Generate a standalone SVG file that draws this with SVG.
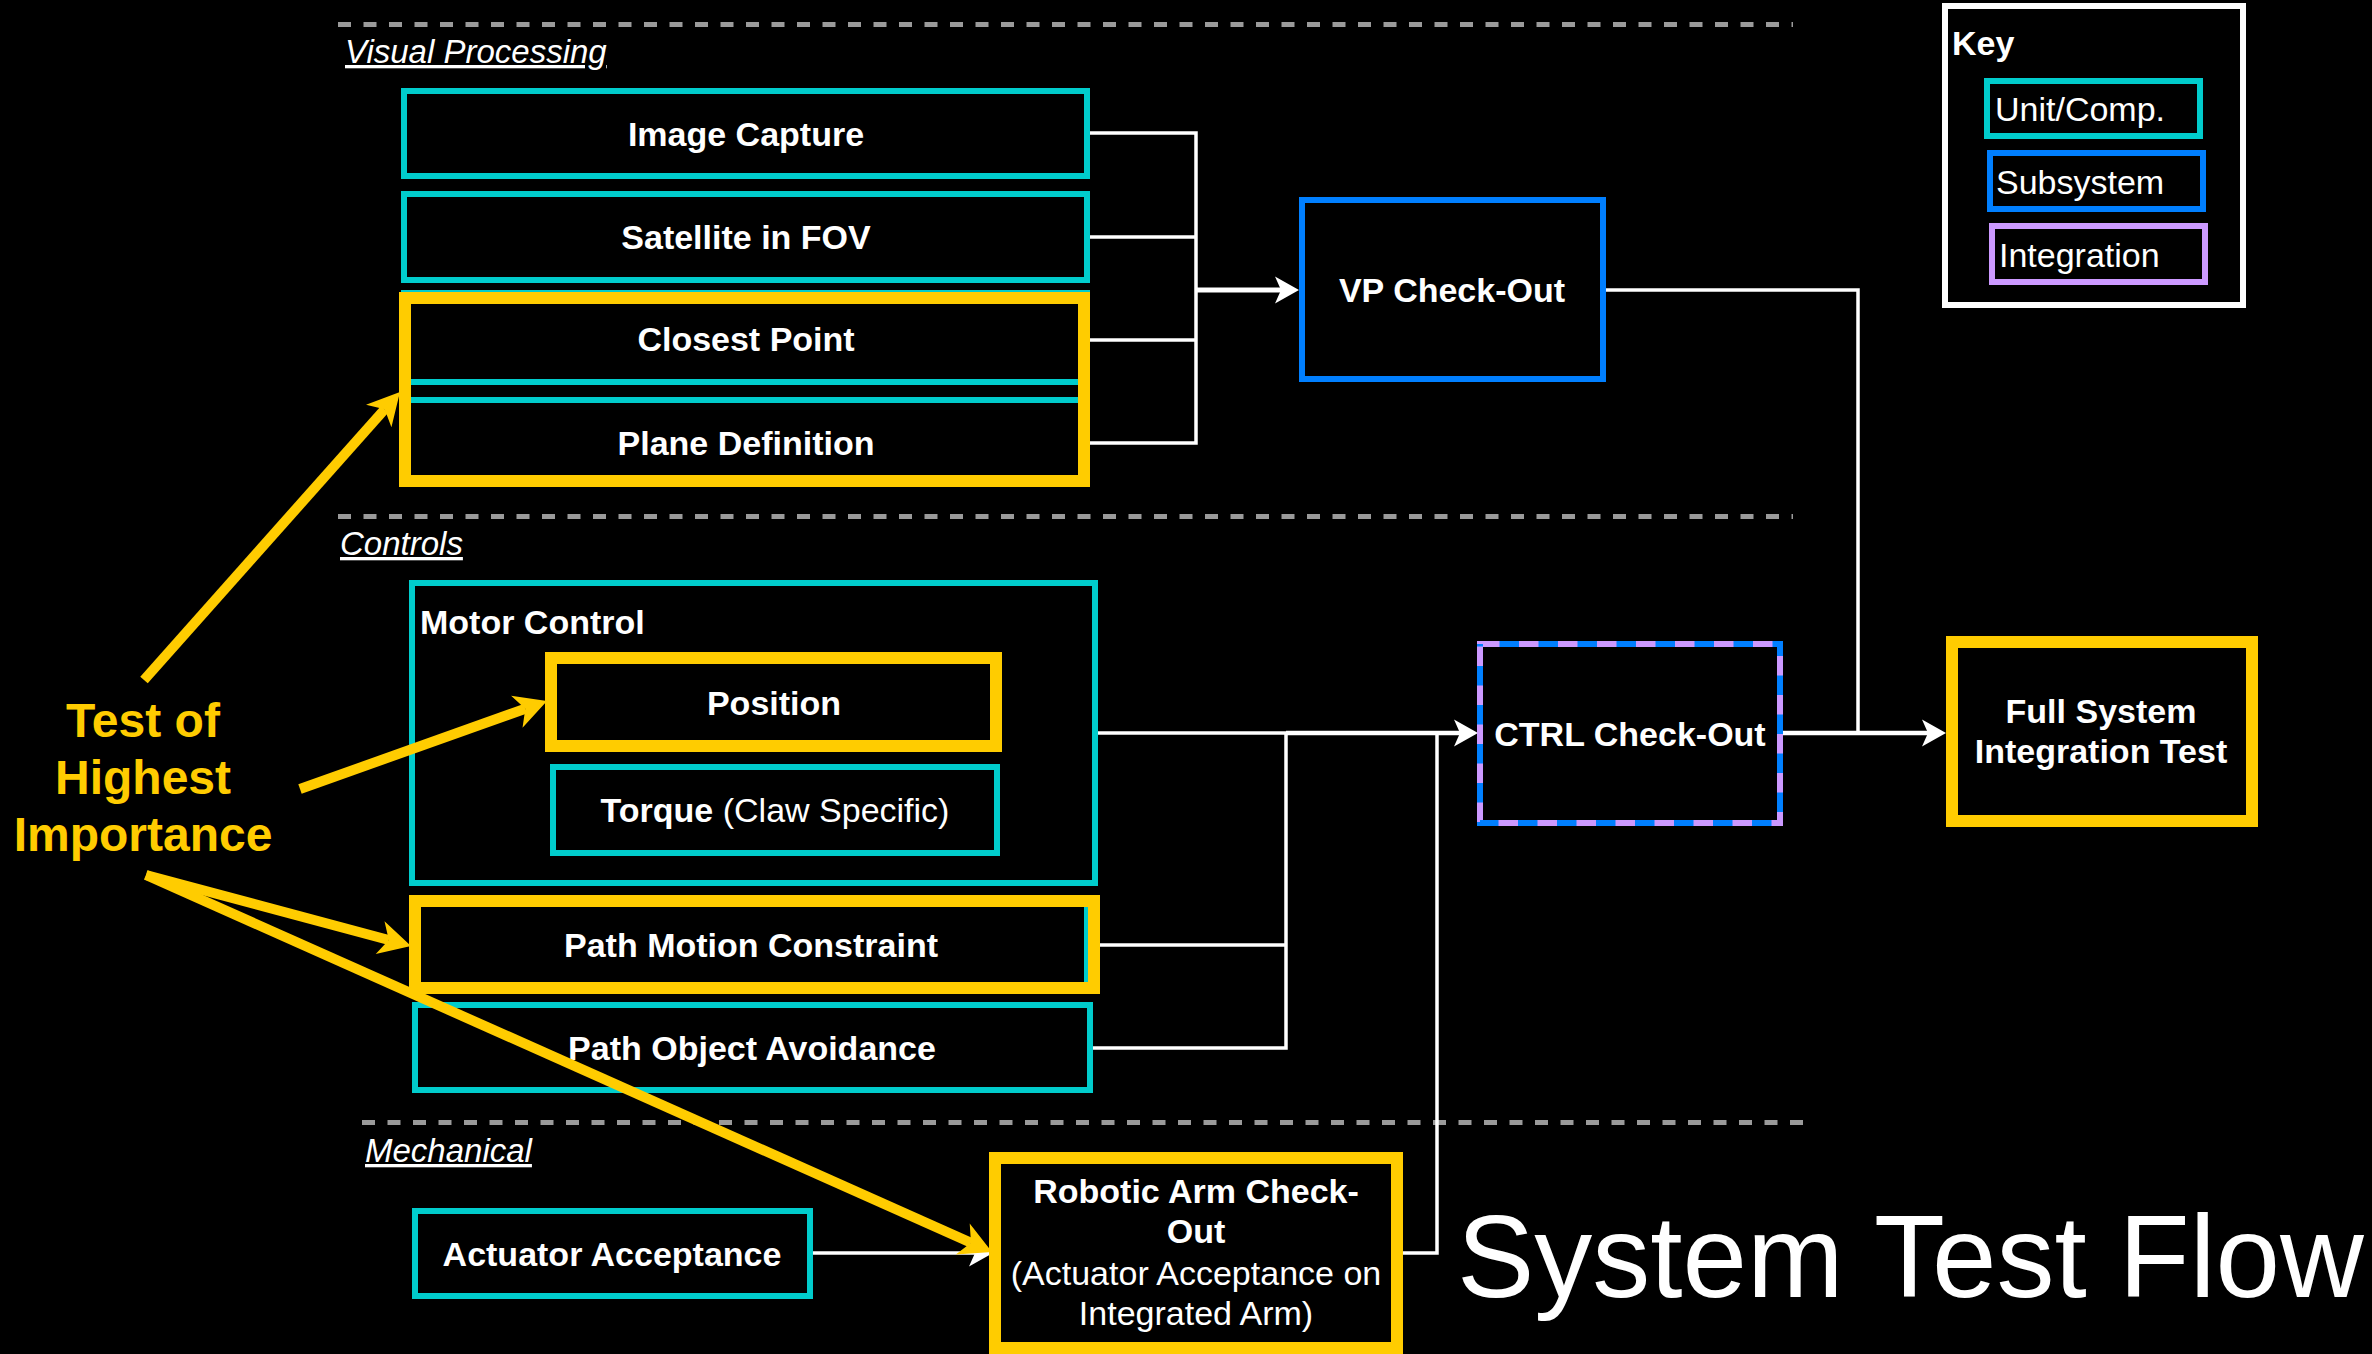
<svg xmlns="http://www.w3.org/2000/svg" width="2372" height="1354" viewBox="0 0 2372 1354">
<style>
text{font-family:"Liberation Sans",Arial,sans-serif;fill:#fff}
.b{font-weight:bold;font-size:34px;text-anchor:middle}
.r{font-size:34px}
.sec{font-size:33px;font-style:italic;text-decoration:underline}
.cy{fill:#000;stroke:#00CCCC;stroke-width:6}
.yl{fill:none;stroke:#FFCC00;stroke-width:12}
.yf{fill:#000;stroke:#FFCC00;stroke-width:12}
.bl{fill:#000;stroke:#007FFF;stroke-width:6}
.pu{fill:#000;stroke:#CC99FF;stroke-width:6}
.dash{stroke:#9a9a9a;stroke-width:5;stroke-dasharray:13 12.5;fill:none}
.w{fill:none;stroke:#fff;stroke-width:3.5}
.wa{fill:none;stroke:#fff;stroke-width:4.5;marker-end:url(#wa)}
.ya{fill:none;stroke:#FFCC00;stroke-width:10;marker-end:url(#ya)}
</style>
<defs>
<marker id="wa" markerUnits="userSpaceOnUse" viewBox="0 0 24 27" markerWidth="24" markerHeight="27" refX="6" refY="13.5" orient="auto" overflow="visible"><path d="M0,0 L24,13.5 L0,27 L6,13.5 Z" fill="#fff"/></marker>
<marker id="ya" markerUnits="userSpaceOnUse" viewBox="0 0 32 34" markerWidth="32" markerHeight="34" refX="9" refY="17" orient="auto" overflow="visible"><path d="M0,0 L32,17 L0,34 L9,17 Z" fill="#FFCC00"/></marker>
</defs>
<rect width="2372" height="1354" fill="#000"/>

<g id="sections">
<line class="dash" x1="338" y1="24.5" x2="1793" y2="24.5"/>
<line class="dash" x1="338" y1="516.5" x2="1793" y2="516.5"/>
<line class="dash" x1="362" y1="1122.5" x2="1812" y2="1122.5"/>
<text class="sec" x="345" y="63">Visual Processing</text>
<text class="sec" x="340" y="555">Controls</text>
<text class="sec" x="365" y="1162">Mechanical</text>
</g>

<g id="connectors">
<path class="w" d="M1090,133 H1196 V443 H1090"/>
<path class="w" d="M1090,237 H1196"/>
<path class="w" d="M1090,340 H1196"/>
<path class="wa" d="M1196,290 H1281" style="stroke-width:5"/>
<path class="w" d="M1606,290 H1858 V733"/>
<path class="wa" d="M1783,733 H1928"/>
<path class="w" d="M1097,733 H1286"/>
<path class="wa" d="M1286,733 H1460"/>
<path class="w" d="M1100,945 H1286"/>
<path class="w" d="M1093,1048 H1286 V733"/>
<path class="w" d="M1403,1253 H1437 V733"/>
<path class="wa" d="M813,1253 H975" style="stroke-width:3.5"/>
</g>

<g id="image-capture"><rect class="cy" x="404" y="91" width="683" height="85"/><text class="b" x="746" y="146">Image Capture</text></g>
<g id="satellite-fov"><rect class="cy" x="404" y="194" width="683" height="86"/><text class="b" x="746" y="249">Satellite in FOV</text></g>
<g id="closest-point"><rect class="cy" x="404" y="293" width="683" height="89"/><text class="b" x="746" y="351">Closest Point</text></g>
<g id="plane-definition"><rect class="cy" x="404" y="400" width="683" height="84"/><text class="b" x="746" y="455">Plane Definition</text></g>
<g id="vp-highlight"><rect class="yl" x="405" y="298" width="679" height="183"/></g>

<g id="vp-checkout"><rect class="bl" x="1302" y="200" width="301" height="179"/><text class="b" x="1452" y="302">VP Check-Out</text></g>

<g id="key">
<rect x="1945" y="6" width="298" height="299" fill="#000" stroke="#fff" stroke-width="6"/>
<text x="1952" y="55" style="font-weight:bold;font-size:34px">Key</text>
<rect class="cy" x="1987" y="81" width="213" height="55"/><text class="r" x="1995" y="121">Unit/Comp.</text>
<rect class="bl" x="1990" y="153" width="213" height="56"/><text class="r" x="1996" y="194">Subsystem</text>
<rect class="pu" x="1992" y="226" width="213" height="56"/><text class="r" x="1999" y="267">Integration</text>
</g>

<g id="motor-control">
<rect class="cy" x="412" y="583" width="683" height="300"/>
<text x="420" y="634" style="font-weight:bold;font-size:34px">Motor Control</text>
</g>
<g id="position"><rect class="yf" x="551" y="658" width="445" height="88"/><text class="b" x="774" y="715">Position</text></g>
<g id="torque"><rect class="cy" x="553" y="767" width="444" height="86"/><text class="b" x="775" y="822">Torque<tspan style="font-weight:normal"> (Claw Specific)</tspan></text></g>
<g id="path-motion"><rect class="cy" x="412" y="901" width="675" height="89"/><rect class="yl" x="415" y="901" width="679" height="87"/><text class="b" x="751" y="957">Path Motion Constraint</text></g>
<g id="path-object"><rect class="cy" x="415" y="1005" width="675" height="85"/><text class="b" x="752" y="1060">Path Object Avoidance</text></g>

<g id="ctrl-checkout">
<rect class="pu" x="1480" y="644" width="300" height="179"/>
<rect x="1480" y="644" width="300" height="179" fill="none" stroke="#007FFF" stroke-width="6" stroke-dasharray="19.5 19.5" stroke-dashoffset="19.5"/>
<text class="b" x="1630" y="746">CTRL Check-Out</text>
</g>

<g id="full-system"><rect class="yf" x="1952" y="642" width="300" height="179"/><text class="b" x="2101" y="723">Full System</text><text class="b" x="2101" y="763">Integration Test</text></g>

<g id="actuator-acceptance"><rect class="cy" x="415" y="1211" width="395" height="85"/><text class="b" x="612" y="1266">Actuator Acceptance</text></g>
<g id="robotic-arm">
<rect class="yf" x="995" y="1158" width="402" height="190"/>
<text class="b" x="1196" y="1203">Robotic Arm Check-</text>
<text class="b" x="1196" y="1243">Out</text>
<text class="r" x="1196" y="1285" text-anchor="middle">(Actuator Acceptance on</text>
<text class="r" x="1196" y="1325" text-anchor="middle">Integrated Arm)</text>
</g>

<g id="importance-note">
<text x="143" y="737" text-anchor="middle" style="font-weight:bold;font-size:48px;fill:#FFCC00">Test of</text>
<text x="143" y="794" text-anchor="middle" style="font-weight:bold;font-size:48px;fill:#FFCC00">Highest</text>
<text x="143" y="851" text-anchor="middle" style="font-weight:bold;font-size:48px;fill:#FFCC00">Importance</text>
<path class="ya" d="M144,680 L384.7,409.2"/>
<path class="ya" d="M300,789 L525.3,708.7"/>
<path class="ya" d="M146,875 L388.8,940"/>
<path class="ya" d="M146,875 L971,1242.7"/>
</g>

<g id="title"><text x="1457" y="1297" style="font-size:116px">System Test Flow</text></g>
</svg>
